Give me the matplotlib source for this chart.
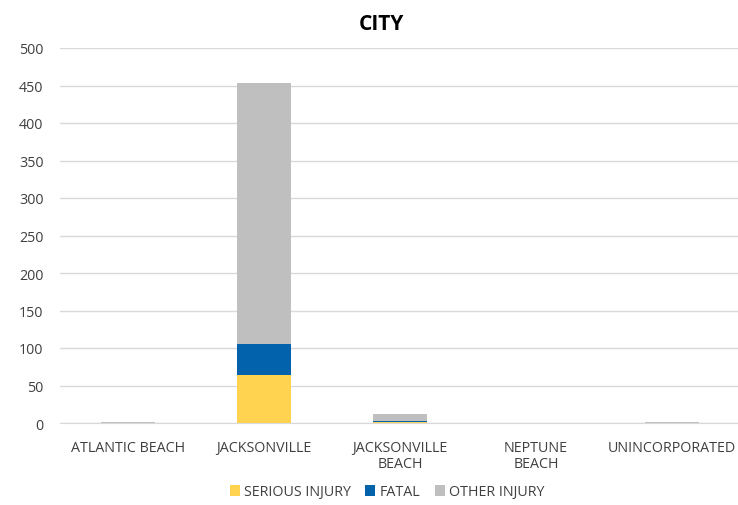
import matplotlib
matplotlib.use('Agg')
import matplotlib.pyplot as plt
import numpy as np

plt.rcParams['font.family'] = ['Open Sans', 'DejaVu Sans']

cities = ['ATLANTIC BEACH', 'JACKSONVILLE', 'JACKSONVILLE\nBEACH', 'NEPTUNE\nBEACH', 'UNINCORPORATED']
serious = [0, 64, 1, 0, 0]
fatal = [0, 42, 2, 0, 0]
other = [2, 348, 9, 0, 2]

fig = plt.figure(figsize=(7.38, 5.06), dpi=100)
ax = fig.add_axes([60/738, 1-424/506, 680/738, 375/506])

x = np.arange(len(cities))
w = 0.4
s = np.array(serious)
f = np.array(fatal)
o = np.array(other)
ax.bar(x, s, w, color='#FFD24F', label='SERIOUS INJURY')
ax.bar(x, f, w, bottom=s, color='#0262AC', label='FATAL')
ax.bar(x, o, w, bottom=s + f, color='#BFBFBF', label='OTHER INJURY')

ax.set_xlim(-0.5, len(cities) - 0.5)
ax.set_ylim(0, 500)
ax.set_yticks(range(0, 501, 50))
ax.yaxis.grid(True, color='#D9D9D9', linewidth=1)
ax.set_axisbelow(True)
for sp in ['top', 'right', 'left']:
    ax.spines[sp].set_visible(False)
ax.spines['bottom'].set_color('#D9D9D9')
ax.tick_params(length=0, labelsize=10.3, colors='#404040')
ax.tick_params(axis='y', pad=12)
ax.tick_params(axis='x', pad=12)
ax.set_xticks(x)
ax.set_xticklabels(cities, linespacing=1.15)

fig.text(381/738, 1-25/506, 'CITY', fontsize=15, fontweight='bold',
         ha='center', va='center')
fig.legend(loc='center', ncol=3, frameon=False, fontsize=10.3,
           bbox_to_anchor=(387/738, 1-493/506), handlelength=0.7, handleheight=0.7,
           columnspacing=1.0, handletextpad=0.3, labelcolor='#404040')

fig.savefig('out.png', dpi=100)
